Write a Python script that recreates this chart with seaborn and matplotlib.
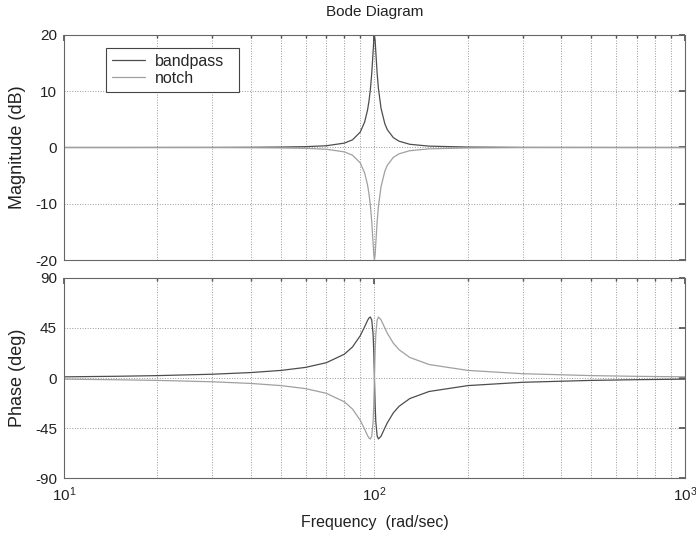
import pandas as pd
import seaborn as sns
import matplotlib.pyplot as plt
from matplotlib.ticker import LogLocator, NullFormatter

# frequency points (rad/sec)
freq = [10, 15, 20, 30, 40, 50, 60, 70, 80, 85, 90, 93, 95, 96, 97, 98, 99, 99.5,
        100, 100.5, 101, 102, 103, 105, 108, 110, 115, 120, 130, 150, 200, 300,
        500, 700, 1000]

bandpass_mag = [0.00, 0.00, 0.01, 0.02, 0.04, 0.08, 0.15, 0.31, 0.78, 1.37, 2.74,
                4.54, 6.65, 8.20, 10.27, 13.11, 17.01, 19.04, 20.0, 19.05, 17.05,
                13.25, 10.48, 6.98, 4.22, 3.17, 1.76, 1.12, 0.57, 0.24, 0.08,
                0.02, 0.01, 0.00, 0.00]
notch_mag = [-v for v in bandpass_mag]

bandpass_phase = [1.04, 1.58, 2.15, 3.39, 4.90, 6.83, 9.55, 13.78, 21.42, 27.98,
                  38.04, 46.2, 51.8, 54.0, 54.9, 52.25, 39.4, 23.75, 0.0, -23.64,
                  -39.18, -52.0, -54.84, -52.41, -44.99, -40.35, -31.42, -25.49,
                  -18.49, -12.12, -6.83, -3.86, -2.15, -1.50, -1.04]
notch_phase = [-v for v in bandpass_phase]

mag_ticks = [-20, -10, 0, 10, 20]
phase_ticks = [-90, -45, 0, 45, 90]

df = pd.DataFrame({
    "freq": freq * 2,
    "mag": bandpass_mag + notch_mag,
    "phase": bandpass_phase + notch_phase,
    "filter": ["bandpass"] * len(freq) + ["notch"] * len(freq),
})
palette = {"bandpass": "#4d4d4d", "notch": "#a0a0a0"}

sns.set_theme(style="white")
plt.rcParams["font.family"] = ["Liberation Sans", "DejaVu Sans"]
plt.rcParams["mathtext.fontset"] = "custom"
plt.rcParams["mathtext.rm"] = "Liberation Sans"
plt.rcParams["axes.unicode_minus"] = False

fig = plt.figure(figsize=(6.96, 5.35), dpi=100)
ax1 = fig.add_axes([0.092, 0.514, 0.892, 0.4206])
ax2 = fig.add_axes([0.092, 0.1065, 0.892, 0.3739])

sns.lineplot(data=df, x="freq", y="mag", hue="filter", palette=palette,
             linewidth=0.9, errorbar=None, ax=ax1)
sns.lineplot(data=df, x="freq", y="phase", hue="filter", palette=palette,
             linewidth=0.9, errorbar=None, ax=ax2, legend=False)

for ax, ticks in [(ax1, mag_ticks), (ax2, phase_ticks)]:
    ax.set_xscale("log")
    ax.set_xlim(10, 1000)
    ax.set_ylim(ticks[0], ticks[-1])
    ax.set_yticks(ticks)
    ax.xaxis.set_major_locator(LogLocator(base=10))
    ax.xaxis.set_minor_locator(LogLocator(base=10, subs=range(2, 10)))
    ax.xaxis.set_minor_formatter(NullFormatter())
    ax.grid(True, which="both", axis="x", linestyle=":", color="#9a9a9a", linewidth=0.7)
    ax.grid(True, which="major", axis="y", linestyle=":", color="#9a9a9a", linewidth=0.7)
    ax.tick_params(which="both", direction="in", top=True, right=True,
                   color="#555555", labelsize=11, labelcolor="#222222", pad=5)
    ax.tick_params(which="major", length=4)
    ax.tick_params(which="minor", length=2.5)
    for s in ax.spines.values():
        s.set_color("#666666")
        s.set_linewidth(0.8)
    ax.set_xlabel("")

ax1.tick_params(labelbottom=False)
ax1.set_ylabel("Magnitude (dB)", fontsize=13, color="#222222")
ax2.set_ylabel("Phase (deg)", fontsize=13, color="#222222")
ax1.yaxis.set_label_coords(-0.062, 0.5)
ax2.yaxis.set_label_coords(-0.062, 0.5)
ax2.set_xlabel("Frequency  (rad/sec)", fontsize=11.5, color="#222222")
ax2.xaxis.set_label_coords(0.5, -0.185)

fig.text(0.538, 0.978, "Bode Diagram", ha="center", va="center",
         fontsize=11, color="#222222")

leg = ax1.legend(loc="upper left", bbox_to_anchor=(0.068, 0.742, 0.214, 0.2),
                 mode="expand", borderaxespad=0,
                 frameon=True, fancybox=False, edgecolor="#444444", framealpha=1,
                 fontsize=11.5, handlelength=2.1, handletextpad=0.6,
                 borderpad=0.35, labelspacing=0.15, title=None)
leg.get_frame().set_linewidth(0.8)

fig.savefig("out.png", dpi=100)
